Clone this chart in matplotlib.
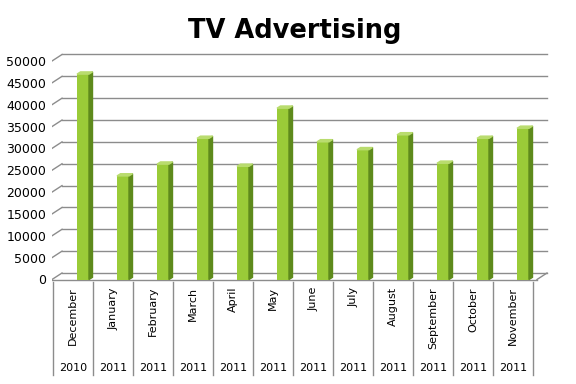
import numpy as np
import matplotlib.pyplot as plt
from matplotlib.patches import Polygon

# Datos
meses = ['December', 'January', 'February', 'March', 'April', 'May', 'June',
         'July', 'August', 'September', 'October', 'November']
anios = ['2010'] + ['2011'] * 11
valores = [47000, 23700, 26400, 32300, 25900, 39200, 31500,
           29700, 33100, 26600, 32300, 34600]
yticks = np.arange(0, 50001, 5000)

# Colores
c_frente = '#9ACB38'
c_lado = '#5E8A1C'
c_tope = '#B9DC6E'
c_grilla = '#8C8C8C'

W, H = 576, 384
fig = plt.figure(figsize=(W / 100, H / 100), dpi=100)

# Geometria en pixeles -> unidades de datos
px_izq, px_der, px_sup = 52, 560, 40
x_c0, paso = 83, 40          # centro frente de la primera barra, ancho de categoria
y_cero, px_por_50k = 279.5, 218.5
vpp = 50000 / px_por_50k      # valor por pixel

ax = fig.add_axes([px_izq / W, 0, (px_der - px_izq) / W, (H - px_sup) / H])
ax.set_xlim((px_izq - x_c0) / paso, (px_der - x_c0) / paso)
ax.set_ylim((y_cero - H) * vpp, (y_cero - px_sup) * vpp)
for s in ax.spines.values():
    s.set_visible(False)
ax.set_xticks([])
ax.set_yticks(yticks)
ax.set_yticklabels([str(t) for t in yticks], fontsize=9)
ax.tick_params(axis='y', length=0, pad=4)

# Profundidad de la pared del fondo
dx, dy = 10 / paso, 6.5 * vpp
x_front_izq = (px_izq - x_c0) / paso
x_front_der = (537 - x_c0) / paso

for t in yticks:
    ax.plot([x_front_izq, x_front_izq + dx], [t, t + dy], color=c_grilla, lw=1, zorder=1)
    ax.plot([x_front_izq + dx, x_front_der + dx], [t + dy, t + dy],
            color=c_grilla, lw=1, zorder=1)
# piso
ax.plot([x_front_izq, x_front_der], [0, 0], color=c_grilla, lw=1, zorder=1)
ax.plot([x_front_der, x_front_der + dx], [0, dy], color=c_grilla, lw=1, zorder=1)

# Barras con efecto 3D
xs = np.arange(len(valores))
ancho = 0.3
sdx, sdy = 3.5 / paso, 2.2 * vpp
ax.bar(xs, valores, width=ancho, color=c_frente, zorder=3)
for x, v in zip(xs, valores):
    r = x + ancho / 2
    l = x - ancho / 2
    ax.add_patch(Polygon([(r, 0), (r + sdx, sdy), (r + sdx, v + sdy), (r, v)],
                         closed=True, color=c_lado, zorder=3))
    ax.add_patch(Polygon([(l, v), (r, v), (r + sdx, v + sdy), (l + sdx, v + sdy)],
                         closed=True, color=c_tope, zorder=3))

# Tabla de etiquetas del eje x
off = (53.3 - x_c0) / paso
y_tab_sup = (y_cero - 282) * vpp
y_tab_inf = (y_cero - 375) * vpp
for k in range(len(meses) + 1):
    ax.plot([k + off, k + off], [y_tab_sup, y_tab_inf], color=c_grilla, lw=1)
for k, (m, a) in enumerate(zip(meses, anios)):
    xc = k + off + 0.5
    ax.text(xc, (y_cero - 287) * vpp, m, rotation=90, ha='center', va='top',
            fontsize=8)
    ax.text(xc, (y_cero - 368) * vpp, a, ha='center', va='center', fontsize=8)

fig.text(295 / W, 1 - 31 / H, 'TV Advertising', ha='center', va='center',
         fontsize=18.5, fontweight='bold')

fig.savefig('out.png', dpi=100)
